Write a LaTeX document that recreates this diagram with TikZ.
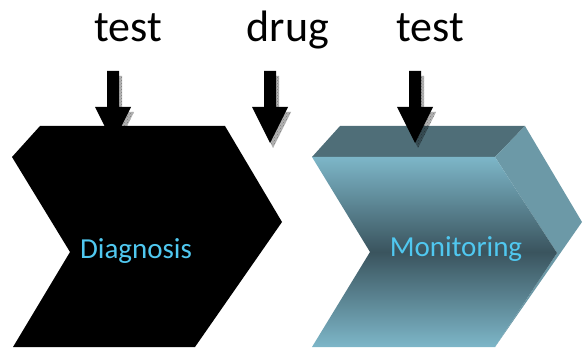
\documentclass[tikz,border=0pt]{standalone}
\usepackage{fontspec}
\setmainfont{Carlito}
\usetikzlibrary{patterns}

\definecolor{topface}{RGB}{79,110,120}
\definecolor{sideface}{RGB}{108,153,167}
\definecolor{frontlight}{RGB}{125,182,200}
\definecolor{frontdark}{RGB}{58,84,94}
\definecolor{stagetext}{RGB}{80,200,240}

\tikzset{
  blockarrow/.style={fill=black},
  arrowshadow/.style={fill=black, fill opacity=0.3, postaction={pattern=crosshatch dots, pattern color=black}},
  toplabel/.style={font=\fontsize{44}{44}\selectfont, anchor=base, inner sep=0pt},
  stagelabel/.style={font=\fontsize{29}{29}\selectfont, anchor=base, inner sep=0pt, text=stagetext},
}

% block arrow pointing down, centred at x=#2
\newcommand{\downblock}[2][]{%
  \path[#1] (#2-6,71) -- (#2+6,71) -- (#2+6,107) -- (#2+18,107) -- (#2,143)
    -- (#2-18,107) -- (#2-6,107) -- cycle;}

\begin{document}
\begin{tikzpicture}[x=1pt,y=-1pt]
  \useasboundingbox (0,0) rectangle (583,352);

  % first stage (black)
  \fill[black] (40,126) -- (225,126) -- (282,222) -- (195,347) -- (13,347)
    -- (70,252) -- (12,157) -- cycle;

  % second stage (teal block)
  \fill[topface] (340,126) -- (525,126) -- (495,157) -- (312,157) -- cycle;
  \fill[sideface] (495,157) -- (525,126) -- (582,222) -- (495,347) -- (557,253) -- cycle;
  \shade[top color=frontlight, bottom color=frontlight, middle color=frontdark]
    (312,157) -- (495,157) -- (557,253) -- (495,347) -- (312,347) -- (370,252) -- cycle;

  % arrows with shadows
  \foreach \ax in {113,270,415} {
    \begin{scope}[shift={(3,5)}]
      \downblock[arrowshadow]{\ax}
    \end{scope}
    \downblock[blockarrow]{\ax}
  }

  % labels
  \node[toplabel] (test1) at (128,42) {test};
  \node[toplabel] (drug) at (288,42) {drug};
  \node[toplabel] (test2) at (430,42) {test};
  \node[stagelabel] (diag) at (136,259) {Diagnosis};
  \node[stagelabel] (moni) at (456,257) {Monitoring};
\end{tikzpicture}
\end{document}
